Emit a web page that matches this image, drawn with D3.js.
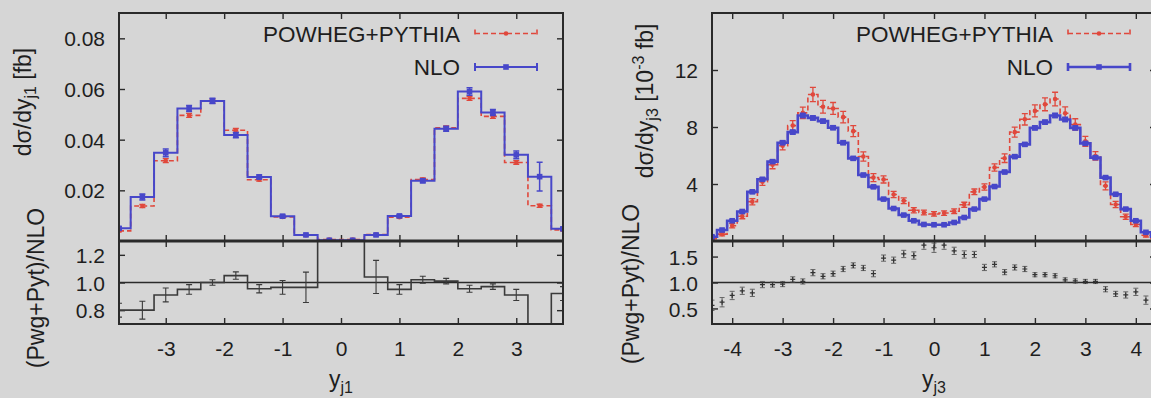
<!DOCTYPE html>
<html>
<head>
<meta charset="utf-8">
<script src="https://cdn.jsdelivr.net/npm/d3@7"></script>
<style>
  body { margin: 0; background: #d6d6d6; }
  svg { display: block; font-family: "Liberation Sans", Arial, Helvetica, sans-serif; }
</style>
</head>
<body>
<svg id="chart" width="1151" height="398"></svg>
<script>
// ---- leading jet rapidity y_j1 (bins of 0.4) ----
const j1Centers = [-3.8, -3.4, -3.0, -2.6, -2.2, -1.8, -1.4, -1.0, -0.6, -0.2,
                    0.2,  0.6,  1.0,  1.4,  1.8,  2.2,  2.6,  3.0,  3.4,  3.8];
const j1Nlo    = [0.0050, 0.0174, 0.0348, 0.0523, 0.0553, 0.0418, 0.0253, 0.0098, 0.0024, 0.0003,
                  0.0003, 0.0024, 0.0099, 0.0238, 0.0443, 0.0590, 0.0507, 0.0340, 0.0254, 0.0048];
const j1NloErr = [0.0006, 0.0012, 0.0015, 0.0012, 0.0010, 0.0010, 0.0008, 0.0005, 0.0003, 0.0002,
                  0.0002, 0.0003, 0.0005, 0.0008, 0.0010, 0.0015, 0.0012, 0.0015, 0.0057, 0.0006];
const j1Pwg    = [0.0040, 0.0138, 0.0317, 0.0496, 0.0552, 0.0437, 0.0242, 0.0095, 0.0023, 0.0006,
                  0.0006, 0.0025, 0.0094, 0.0243, 0.0447, 0.0563, 0.0492, 0.0310, 0.0139, 0.0044];
const j1PwgErr = [0.0004, 0.0006, 0.0008, 0.0008, 0.0008, 0.0007, 0.0006, 0.0004, 0.0002, 0.0001,
                  0.0001, 0.0002, 0.0004, 0.0006, 0.0007, 0.0008, 0.0008, 0.0007, 0.0006, 0.0004];
const j1Ratio    = [0.80, 0.80, 0.91, 0.95, 1.00, 1.05, 0.955, 0.965, 0.965, 2.0,
                    2.0, 1.04, 0.95, 1.02, 1.01, 0.955, 0.97, 0.91, 0.55, 0.92];
const j1RatioErr = [0.05, 0.065, 0.05, 0.035, 0.02, 0.027, 0.03, 0.05, 0.11, 0,
                    0, 0.12, 0.035, 0.025, 0.02, 0.025, 0.02, 0.04, 0.10, 0.05];
const j1XTicks = [-3, -2, -1, 0, 1, 2, 3];
const j1YTicks = [0.02, 0.04, 0.06, 0.08];
const j1RTicks = [0.8, 1.0, 1.2];

// ---- third jet rapidity y_j3 (bins of 0.2), in 10^-3 fb ----
const j3Centers = [-4.4, -4.2, -4.0, -3.8, -3.6, -3.4, -3.2, -3.0, -2.8, -2.6,
                   -2.4, -2.2, -2.0, -1.8, -1.6, -1.4, -1.2, -1.0, -0.8, -0.6,
                   -0.4, -0.2,  0.0,  0.2,  0.4,  0.6,  0.8,  1.0,  1.2,  1.4,
                    1.6,  1.8,  2.0,  2.2,  2.4,  2.6,  2.8,  3.0,  3.2,  3.4,
                    3.6,  3.8,  4.0,  4.2,  4.4];
const j3Nlo = [0.30, 0.77, 1.42, 2.07, 3.45, 4.33, 5.57, 6.90, 7.64, 8.81,
               8.64, 8.41, 7.95, 6.90, 5.80, 4.63, 3.80, 2.94, 2.28, 1.82,
               1.42, 1.16, 1.14, 1.14, 1.30, 1.65, 2.24, 2.94, 3.82, 4.84,
               5.92, 6.78, 7.94, 8.34, 8.81, 8.53, 7.94, 6.85, 5.85, 4.45,
               3.28, 2.24, 1.42, 0.61, 0.30];
const j3NloErr = [0.05, 0.06, 0.07, 0.08, 0.10, 0.10, 0.11, 0.12, 0.13, 0.14,
                  0.14, 0.13, 0.13, 0.12, 0.11, 0.10, 0.09, 0.08, 0.07, 0.07,
                  0.06, 0.06, 0.06, 0.06, 0.06, 0.07, 0.07, 0.08, 0.09, 0.10,
                  0.11, 0.12, 0.13, 0.13, 0.14, 0.14, 0.13, 0.12, 0.11, 0.10,
                  0.08, 0.07, 0.07, 0.06, 0.05];
const j3Pwg = [0.17, 0.48, 1.07, 1.74, 2.76, 4.16, 5.35, 6.69, 8.10, 8.99,
               10.28, 9.42, 9.30, 8.69, 7.71, 5.93, 4.45, 4.32, 3.26, 2.82,
               2.16, 2.00, 1.90, 1.96, 2.09, 2.54, 3.45, 3.79, 5.16, 5.81,
               7.64, 8.54, 9.13, 9.59, 9.96, 8.96, 8.18, 6.99, 5.97, 3.87,
               2.56, 1.70, 1.16, 0.40, 0.18];
const j3PwgErr = [0.10, 0.12, 0.15, 0.18, 0.22, 0.25, 0.28, 0.30, 0.35, 0.40,
                  0.50, 0.45, 0.42, 0.40, 0.38, 0.32, 0.28, 0.25, 0.22, 0.20,
                  0.18, 0.16, 0.16, 0.16, 0.16, 0.18, 0.20, 0.22, 0.25, 0.30,
                  0.35, 0.40, 0.42, 0.45, 0.48, 0.45, 0.40, 0.35, 0.30, 0.28,
                  0.22, 0.18, 0.15, 0.12, 0.10];
const j3Ratio = [0.56, 0.62, 0.75, 0.84, 0.80, 0.96, 0.96, 0.97, 1.06, 1.02,
                 1.19, 1.12, 1.17, 1.26, 1.33, 1.28, 1.17, 1.47, 1.43, 1.55,
                 1.52, 1.72, 1.67, 1.72, 1.61, 1.54, 1.54, 1.29, 1.35, 1.20,
                 1.29, 1.26, 1.15, 1.15, 1.13, 1.05, 1.03, 1.02, 1.02, 0.87,
                 0.78, 0.76, 0.82, 0.66, 0.60];
const j3RatioErr = [0.10, 0.09, 0.08, 0.07, 0.07, 0.06, 0.05, 0.05, 0.05, 0.05,
                    0.06, 0.05, 0.05, 0.05, 0.05, 0.05, 0.06, 0.06, 0.06, 0.07,
                    0.07, 0.08, 0.09, 0.08, 0.07, 0.07, 0.06, 0.06, 0.05, 0.05,
                    0.05, 0.05, 0.04, 0.04, 0.04, 0.04, 0.04, 0.04, 0.04, 0.05,
                    0.05, 0.06, 0.07, 0.08, 0.10];
const j3XTicks = [-4, -3, -2, -1, 0, 1, 2, 3, 4];
const j3YTicks = [4, 8, 12];
const j3RTicks = [0.5, 1.0, 1.5];

const seriesNames = ["POWHEG+PYTHIA", "NLO"];

// ---- styling ----
const RED = "#e0483c", BLUE = "#4747c9", INK = "#1e1e1e", FRAME = "#2a2a2a", RATIO_INK = "#3a3a3a";
const TICK_FONT = 21, LABEL_FONT = 23, KEY_FONT = 22.5;

const svg = d3.select("#chart");
const defs = svg.append("defs");

function zip(cs, vs, es) { return cs.map((c, i) => ({ c, v: vs[i], e: es ? es[i] : 0 })); }

function styleAxis(sel, hideLabels) {
  sel.select(".domain").remove();
  sel.selectAll(".tick line").attr("stroke", FRAME).attr("stroke-width", 1.4);
  sel.selectAll("text").attr("font-family", null).attr("font-size", TICK_FONT).attr("fill", INK);
  if (hideLabels) sel.selectAll("text").remove();
}

function drawPanel(cfg) {
  const g = svg.append("g");
  const x  = d3.scaleLinear().domain(cfg.xDomain).range([cfg.left, cfg.right]);
  const y  = d3.scaleLinear().domain(cfg.yDomain).range([cfg.mid, cfg.top]);
  const yr = d3.scaleLinear().domain(cfg.rDomain).range([cfg.bottom, cfg.mid]);

  defs.append("clipPath").attr("id", cfg.id + "-m").append("rect")
    .attr("x", cfg.left).attr("y", cfg.top).attr("width", cfg.right - cfg.left).attr("height", cfg.mid - cfg.top);
  defs.append("clipPath").attr("id", cfg.id + "-r").append("rect")
    .attr("x", cfg.left).attr("y", cfg.mid).attr("width", cfg.right - cfg.left).attr("height", cfg.bottom - cfg.mid);

  // ticks, pointing inward on all four sides of both frames
  const tk = 6;
  styleAxis(g.append("g").attr("transform", `translate(${cfg.left},0)`)
    .call(d3.axisLeft(y).tickValues(cfg.yTicks).tickSize(-tk).tickPadding(14).tickFormat(cfg.yFmt)));
  g.selectAll("text").attr("dy", "0.36em");
  styleAxis(g.append("g").attr("transform", `translate(${cfg.right},0)`)
    .call(d3.axisRight(y).tickValues(cfg.yTicks).tickSize(-tk)), true);
  styleAxis(g.append("g").attr("transform", `translate(0,${cfg.top})`)
    .call(d3.axisTop(x).tickValues(cfg.xTicks).tickSize(-tk)), true);
  styleAxis(g.append("g").attr("transform", `translate(0,${cfg.mid})`)
    .call(d3.axisBottom(x).tickValues(cfg.xTicks).tickSize(-tk)), true);

  const ra = g.append("g");
  styleAxis(ra.append("g").attr("transform", `translate(${cfg.left},0)`)
    .call(d3.axisLeft(yr).tickValues(cfg.rTicks).tickSize(-tk).tickPadding(14).tickFormat(d => d.toFixed(1))));
  ra.selectAll("text").attr("dy", "0.36em");
  styleAxis(ra.append("g").attr("transform", `translate(${cfg.right},0)`)
    .call(d3.axisRight(yr).tickValues(cfg.rTicks).tickSize(-tk)), true);
  styleAxis(ra.append("g").attr("transform", `translate(0,${cfg.mid})`)
    .call(d3.axisTop(x).tickValues(cfg.xTicks).tickSize(-tk)), true);
  styleAxis(ra.append("g").attr("transform", `translate(0,${cfg.bottom})`)
    .call(d3.axisBottom(x).tickValues(cfg.xTicks).tickSize(-tk).tickPadding(17).tickFormat(d => String(d))));

  // ---- main histograms ----
  const stepLine = (sy) => d3.line().x(d => x(d.c)).y(d => sy(d.v)).curve(d3.curveStep);
  const pwg = zip(cfg.centers, cfg.pwg, cfg.pwgErr);
  const nlo = zip(cfg.centers, cfg.nlo, cfg.nloErr);
  const main = g.append("g").attr("clip-path", `url(#${cfg.id}-m)`);

  function errBars(sel, data, sy, color, w, cap) {
    sel.append("g").selectAll("path").data(data.filter(d => d.e > 0)).join("path")
      .attr("d", d => {
        const cx = x(d.c), y0 = sy(d.v - d.e), y1 = sy(d.v + d.e);
        return `M${cx},${y0}V${y1}M${cx - cap},${y0}H${cx + cap}M${cx - cap},${y1}H${cx + cap}`;
      })
      .attr("fill", "none").attr("stroke", color).attr("stroke-width", w);
  }

  main.append("path").datum(pwg).attr("d", stepLine(y))
    .attr("fill", "none").attr("stroke", RED).attr("stroke-width", 1.6).attr("stroke-dasharray", "5,3");
  errBars(main, pwg, y, RED, 1.3, 3);
  main.append("g").selectAll("circle").data(pwg).join("circle")
    .attr("cx", d => x(d.c)).attr("cy", d => y(d.v)).attr("r", 2.3).attr("fill", RED);

  main.append("path").datum(nlo).attr("d", stepLine(y))
    .attr("fill", "none").attr("stroke", BLUE).attr("stroke-width", cfg.blueWidth);
  errBars(main, nlo, y, BLUE, 1.5, 3);
  main.append("g").selectAll("rect").data(nlo).join("rect")
    .attr("x", d => x(d.c) - 2.8).attr("y", d => y(d.v) - 2.8).attr("width", 5.6).attr("height", 5.6).attr("fill", BLUE);

  // ---- ratio panel ----
  const rat = zip(cfg.centers, cfg.ratio, cfg.ratioErr);
  const rg = g.append("g").attr("clip-path", `url(#${cfg.id}-r)`);
  rg.append("line").attr("x1", cfg.left).attr("x2", cfg.right).attr("y1", yr(1)).attr("y2", yr(1))
    .attr("stroke", FRAME).attr("stroke-width", 1.3);
  if (cfg.ratioSteps) {
    rg.append("path").datum(rat).attr("d", stepLine(yr))
      .attr("fill", "none").attr("stroke", RATIO_INK).attr("stroke-width", 1.6);
    errBars(rg, rat, yr, RATIO_INK, 1.1, 3);
  } else {
    errBars(rg, rat, yr, "#5a5a5a", 0.9, 2.5);
    rg.append("g").selectAll("path.pt").data(rat).join("path").attr("class", "pt")
      .attr("d", d => `M${x(d.c) - 2.5},${yr(d.v)}H${x(d.c) + 2.5}M${x(d.c)},${yr(d.v) - 2.5}V${yr(d.v) + 2.5}`)
      .attr("stroke", "#333").attr("stroke-width", 1.2);
  }

  // ---- frames ----
  g.append("rect").attr("x", cfg.left).attr("y", cfg.top).attr("width", cfg.right - cfg.left).attr("height", cfg.mid - cfg.top)
    .attr("fill", "none").attr("stroke", FRAME).attr("stroke-width", 2);
  g.append("rect").attr("x", cfg.left).attr("y", cfg.mid).attr("width", cfg.right - cfg.left).attr("height", cfg.bottom - cfg.mid)
    .attr("fill", "none").attr("stroke", FRAME).attr("stroke-width", 2);
  g.append("line").attr("x1", cfg.left).attr("x2", cfg.right).attr("y1", cfg.mid).attr("y2", cfg.mid)
    .attr("stroke", FRAME).attr("stroke-width", 3);

  // ---- key ----
  const kx1 = cfg.right - 88, kx2 = cfg.right - 26, ktx = cfg.right - 103;
  [[33.5, RED, "5,3", 1.6, "circle"], [67, BLUE, null, cfg.blueWidth, "rect"]].forEach(([ky, col, dash, w, mk], i) => {
    g.append("text").attr("x", ktx).attr("y", ky + 8).attr("text-anchor", "end")
      .attr("font-size", KEY_FONT).attr("fill", INK).text(seriesNames[i]);
    const kl = g.append("path").attr("d", `M${kx1},${ky}H${kx2}M${kx1},${ky - 4}V${ky + 4}M${kx2},${ky - 4}V${ky + 4}`)
      .attr("stroke", col).attr("stroke-width", w).attr("fill", "none");
    if (dash) kl.attr("stroke-dasharray", dash);
    const mx = (kx1 + kx2) / 2;
    if (mk === "circle") g.append("circle").attr("cx", mx).attr("cy", ky).attr("r", 2.3).attr("fill", col);
    else g.append("rect").attr("x", mx - 2.8).attr("y", ky - 2.8).attr("width", 5.6).attr("height", 5.6).attr("fill", col);
  });

  // ---- axis titles ----
  const yl = g.append("text").attr("transform", `translate(${cfg.ylabX},${cfg.ylabY}) rotate(-90)`)
    .attr("text-anchor", "middle").attr("font-size", LABEL_FONT).attr("fill", INK);
  yl.append("tspan").text("dσ/dy");
  yl.append("tspan").attr("font-size", 16).attr("dy", 5).text(cfg.sub);
  if (cfg.unitSup) {
    yl.append("tspan").attr("dy", -5).text(" [10");
    yl.append("tspan").attr("font-size", 16).attr("dy", -9).text(cfg.unitSup);
    yl.append("tspan").attr("dy", 9).text(" fb]");
  } else {
    yl.append("tspan").attr("dy", -5).text(" [fb]");
  }

  g.append("text").attr("transform", `translate(${cfg.rlabX},${cfg.rlabY}) rotate(-90)`)
    .attr("text-anchor", "middle").attr("font-size", LABEL_FONT).attr("fill", INK).text("(Pwg+Pyt)/NLO");

  const xl = g.append("text").attr("x", x(0)).attr("y", 387).attr("text-anchor", "middle")
    .attr("font-size", LABEL_FONT).attr("fill", INK);
  xl.append("tspan").text("y");
  xl.append("tspan").attr("font-size", 16).attr("dy", 6).text(cfg.sub);
}

drawPanel({
  id: "j1", left: 119, right: 563, top: 13, mid: 241, bottom: 324,
  xDomain: [-3.8, 3.8], yDomain: [0, 0.09], rDomain: [0.7, 1.3],
  xTicks: j1XTicks, yTicks: j1YTicks, rTicks: j1RTicks, yFmt: d => d.toFixed(2),
  centers: j1Centers, nlo: j1Nlo, nloErr: j1NloErr, pwg: j1Pwg, pwgErr: j1PwgErr,
  ratio: j1Ratio, ratioErr: j1RatioErr, ratioSteps: true, blueWidth: 2,
  sub: "j1", ylabX: 31, ylabY: 102, rlabX: 44, rlabY: 288
});

drawPanel({
  id: "j3", left: 712, right: 1156, top: 13, mid: 241, bottom: 324,
  xDomain: [-4.4, 4.4], yDomain: [0, 16], rDomain: [0.2, 1.8],
  xTicks: j3XTicks, yTicks: j3YTicks, rTicks: j3RTicks, yFmt: d => String(d),
  centers: j3Centers, nlo: j3Nlo, nloErr: j3NloErr, pwg: j3Pwg, pwgErr: j3PwgErr,
  ratio: j3Ratio, ratioErr: j3RatioErr, ratioSteps: false, blueWidth: 2.6,
  sub: "j3", unitSup: "-3", ylabX: 653, ylabY: 101, rlabX: 639, rlabY: 284
});
</script>
</body>
</html>
